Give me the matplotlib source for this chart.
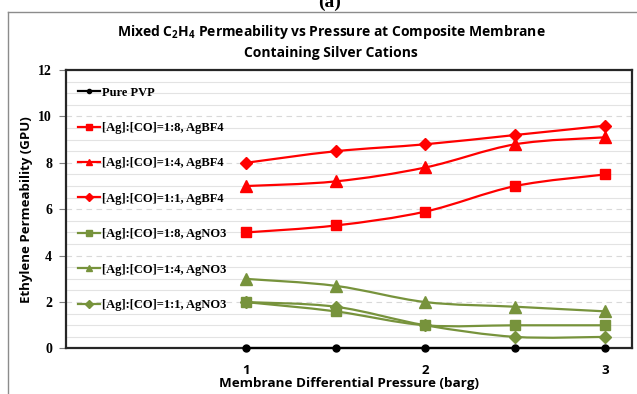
import matplotlib
matplotlib.use("Agg")
import matplotlib.pyplot as plt
from matplotlib.path import Path
from matplotlib.patches import PathPatch
from matplotlib.lines import Line2D
from matplotlib.ticker import MultipleLocator

pressure = [1.0, 1.5, 2.0, 2.5, 3.0]

pure_pvp = [0, 0, 0, 0, 0]
bf4_1_8 = [5.0, 5.3, 5.9, 7.0, 7.5]
bf4_1_4 = [7.0, 7.2, 7.8, 8.8, 9.1]
bf4_1_1 = [8.0, 8.5, 8.8, 9.2, 9.6]
no3_1_8 = [2.0, 1.6, 1.0, 1.0, 1.0]
no3_1_4 = [3.0, 2.7, 2.0, 1.8, 1.6]
no3_1_1 = [2.0, 1.8, 1.0, 0.5, 0.5]

labels = ["Pure PVP",
          "[Ag]:[CO]=1:8, AgBF4",
          "[Ag]:[CO]=1:4, AgBF4",
          "[Ag]:[CO]=1:1, AgBF4",
          "[Ag]:[CO]=1:8, AgNO3",
          "[Ag]:[CO]=1:4, AgNO3",
          "[Ag]:[CO]=1:1, AgNO3"]

RED = "#ff0000"
GREEN = "#77933c"
SANS = "Open Sans"


def smooth_path(x, y):
    # excel style smoothed line: catmull-rom segments as cubic beziers
    pts = list(zip(x, y))
    verts = [pts[0]]
    codes = [Path.MOVETO]
    n = len(pts)
    for i in range(n - 1):
        p0 = pts[i - 1] if i > 0 else pts[i]
        p1 = pts[i]
        p2 = pts[i + 1]
        p3 = pts[i + 2] if i + 2 < n else pts[i + 1]
        c1 = (p1[0] + (p2[0] - p0[0]) / 6, p1[1] + (p2[1] - p0[1]) / 6)
        c2 = (p2[0] - (p3[0] - p1[0]) / 6, p2[1] - (p3[1] - p1[1]) / 6)
        verts += [c1, c2, p2]
        codes += [Path.CURVE4] * 3
    return Path(verts, codes)


def main():
    plt.rcParams.update({
        "mathtext.fontset": "custom",
        "mathtext.rm": SANS + ":bold",
        "mathtext.it": SANS + ":bold",
        "mathtext.bf": SANS + ":bold",
    })
    fig = plt.figure(figsize=(6.37, 3.94), dpi=100)
    ax = fig.add_axes([0.1036, 0.1155, 0.8886, 0.7068])

    series = [
        (pure_pvp, "black", "o", 5, False),
        (bf4_1_8, RED, "s", 6.5, True),
        (bf4_1_4, RED, "^", 8, True),
        (bf4_1_1, RED, "D", 6.5, True),
        (no3_1_8, GREEN, "s", 6.5, True),
        (no3_1_4, GREEN, "^", 8, True),
        (no3_1_1, GREEN, "D", 6.5, True),
    ]
    handles = []
    for (vals, col, mk, ms, smooth), lab in zip(series, labels):
        if smooth:
            ax.add_patch(PathPatch(smooth_path(pressure, vals), fill=False,
                                   edgecolor=col, linewidth=1.6, zorder=3))
        else:
            ax.plot(pressure, vals, color=col, linewidth=1.6, zorder=3, clip_on=False)
        ax.plot(pressure, vals, linestyle="none", marker=mk, markersize=ms,
                color=col, zorder=4, clip_on=False)
        handles.append(Line2D([], [], color=col, linewidth=1.6, marker=mk,
                              markersize=ms * 0.6, label=lab))

    ax.set_xlim(0, 3.15)
    ax.set_ylim(0, 12)
    ax.set_xticks([1, 2, 3])
    ax.yaxis.set_major_locator(MultipleLocator(2))
    ax.yaxis.set_minor_locator(MultipleLocator(0.5))
    ax.grid(axis="y", which="major", color="#d9d9d9", linestyle=(0, (5, 4)), linewidth=0.8)
    ax.grid(axis="y", which="minor", color="#e3e3e3", linestyle="-", linewidth=0.8)
    ax.set_axisbelow(True)
    ax.tick_params(axis="x", length=0, pad=11)
    ax.tick_params(axis="y", which="major", length=5, width=0.8, direction="out",
                   color="#7f7f7f", pad=5)
    ax.tick_params(axis="y", which="minor", length=0)
    for lab in ax.get_xticklabels():
        lab.set_fontfamily(SANS)
        lab.set_fontweight("bold")
        lab.set_fontsize(9.5)
    for lab in ax.get_yticklabels():
        lab.set_fontfamily("Liberation Serif")
        lab.set_fontweight("bold")
        lab.set_fontsize(10)
    for sp in ax.spines.values():
        sp.set_color("#262626")
        sp.set_linewidth(1.6)

    ax.set_xlabel("Membrane Differential Pressure (barg)", fontfamily=SANS,
                  fontweight="bold", fontsize=9.7, labelpad=0)
    ax.set_ylabel("Ethylene Permeability (GPU)", fontfamily=SANS,
                  fontweight="bold", fontsize=9.5, labelpad=4)

    fig.text(0.52, 0.895, "Mixed C$_2$H$_4$ Permeability vs Pressure at Composite Membrane\n"
             "Containing Silver Cations", ha="center", va="center",
             fontfamily=SANS, fontweight="bold", fontsize=10, linespacing=1.5)

    fig.text(0.518, 0.982, "(a)", ha="center", va="baseline",
             fontfamily="Liberation Serif", fontweight="bold", fontsize=14)

    ax.legend(handles=handles, loc="upper left", bbox_to_anchor=(0.021, 0.94),
              frameon=False, borderaxespad=0, borderpad=0, handlelength=1.75,
              handletextpad=0.2, labelspacing=1.87,
              prop={"family": "Liberation Serif", "weight": "bold", "size": 9})

    # outer chart border
    fig.add_artist(Line2D([8 / 637, 1.0], [1 - 12 / 394, 1 - 12 / 394],
                          transform=fig.transFigure, color="#8c8c8c", linewidth=1.0))
    fig.add_artist(Line2D([8 / 637, 8 / 637], [0, 1 - 12 / 394],
                          transform=fig.transFigure, color="#8c8c8c", linewidth=1.0))

    fig.savefig("out.png", dpi=100)
    plt.close(fig)


if __name__ == "__main__":
    main()
